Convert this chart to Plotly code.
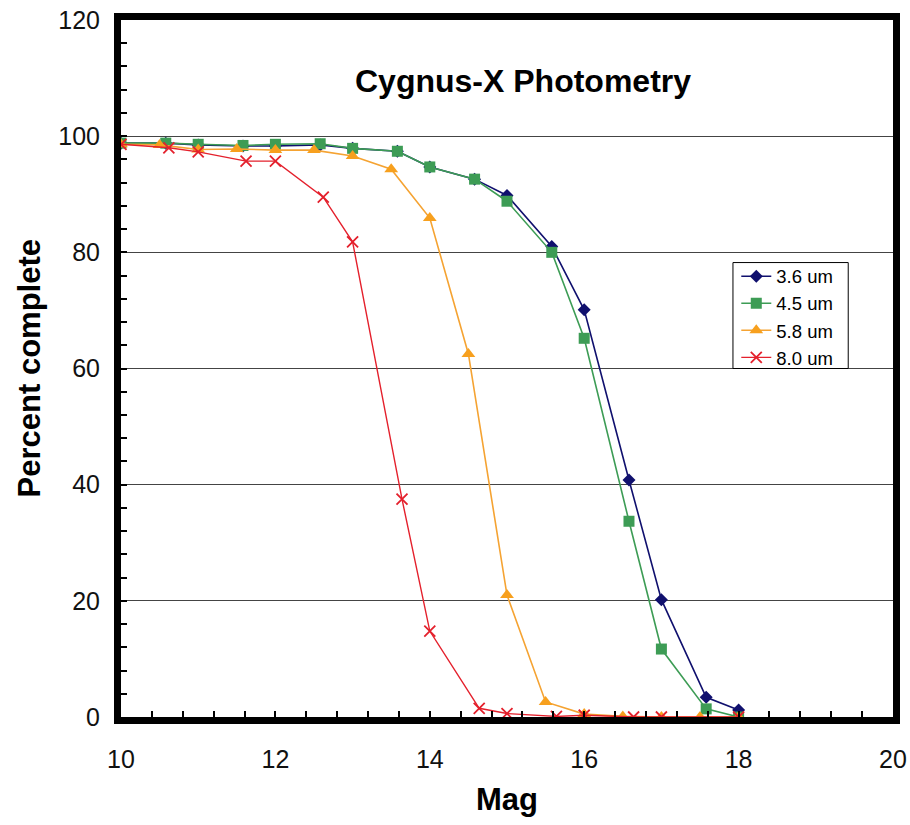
import plotly.graph_objects as go

# ---- data ----
mag_a = [10.0, 10.58, 11.0, 11.58, 12.0, 12.58, 13.0, 13.58, 14.0, 14.58, 15.0, 15.58, 16.0, 16.58, 17.0, 17.58, 18.0]
pct_36 = [98.8, 98.8, 98.5, 98.3, 98.3, 98.5, 97.9, 97.4, 94.7, 92.6, 89.8, 81.0, 70.1, 40.8, 20.2, 3.4, 1.2]
pct_45 = [98.8, 98.8, 98.6, 98.4, 98.6, 98.7, 97.9, 97.4, 94.7, 92.6, 88.8, 80.0, 65.2, 33.7, 11.7, 1.4, 0.0]

mag_b = [10.0, 10.5, 11.0, 11.5, 12.0, 12.5, 13.0, 13.5, 14.0, 14.5, 15.0, 15.5, 16.0, 16.5, 17.0, 17.5, 18.0]
pct_58 = [98.6, 98.5, 97.7, 97.8, 97.6, 97.6, 96.6, 94.3, 85.9, 62.5, 21.0, 2.6, 0.5, 0.1, 0.0, 0.0, 0.0]

mag_c = [10.0, 10.62, 11.0, 11.62, 12.0, 12.62, 13.0, 13.64, 14.0, 14.64, 15.0, 15.64, 16.0, 16.64, 17.0, 18.0]
pct_80 = [98.6, 98.0, 97.3, 95.7, 95.7, 89.5, 81.8, 37.5, 14.8, 1.5, 0.6, 0.1, 0.3, 0.0, 0.0, 0.0]

series_names = ["3.6 um", "4.5 um", "5.8 um", "8.0 um"]
x_ticks = [10, 12, 14, 16, 18, 20]
y_ticks = [0, 20, 40, 60, 80, 100, 120]

FONT = "Liberation Sans, Arial, sans-serif"

fig = go.Figure()
fig.add_trace(go.Scatter(x=mag_a, y=pct_36, name=series_names[0], mode="lines+markers",
                         line=dict(color="#10106e", width=1.6),
                         marker=dict(symbol="diamond", size=10, color="#10106e"),
                         cliponaxis=False))
fig.add_trace(go.Scatter(x=mag_a, y=pct_45, name=series_names[1], mode="lines+markers",
                         line=dict(color="#3d9c55", width=1.6),
                         marker=dict(symbol="square", size=11, color="#3d9c55"),
                         cliponaxis=False))
fig.add_trace(go.Scatter(x=mag_b, y=pct_58, name=series_names[2], mode="lines+markers",
                         line=dict(color="#f5a332", width=1.6),
                         marker=dict(symbol="triangle-up", size=12, color="#f7a01e"),
                         cliponaxis=False))
fig.add_trace(go.Scatter(x=mag_c, y=pct_80, name=series_names[3], mode="lines+markers",
                         line=dict(color="#e4202c", width=1.4),
                         marker=dict(symbol="x-thin-open", size=11, color="#e4202c",
                                     line=dict(color="#e4202c", width=1.8)),
                         cliponaxis=False))

fig.add_annotation(text="<b>Cygnus-X Photometry</b>", x=0.521, y=0.912, xref="paper", yref="paper",
                   showarrow=False, font=dict(family=FONT, size=32, color="#000000"),
                   xanchor="center", yanchor="middle")
fig.add_annotation(text="<b>Mag</b>", x=0.5, y=-0.119, xref="paper", yref="paper",
                   showarrow=False, font=dict(family=FONT, size=31, color="#000000"),
                   xanchor="center", yanchor="middle")
fig.add_annotation(text="<b>Percent complete</b>", x=-0.118, y=0.5, xref="paper", yref="paper",
                   showarrow=False, font=dict(family=FONT, size=31, color="#000000"),
                   xanchor="center", yanchor="middle", textangle=-90)

# legend frame (drawn as a shape so its size can match the original)
fig.add_shape(type="rect", xref="paper", yref="paper", x0=0.7927, x1=0.942, y0=0.5, y1=0.652,
              line=dict(color="#000000", width=1), fillcolor="white", layer="above")

axis_common = dict(showline=True, linewidth=7, linecolor="#000000", mirror=True,
                   ticks="inside", ticklen=6, tickwidth=2, tickcolor="#000000",
                   tickfont=dict(family=FONT, size=25, color="#111111"),
                   zeroline=False, automargin=False)

fig.update_xaxes(range=[10, 20], tickvals=x_ticks, showgrid=False, ticklabelstandoff=14,
                 minor=dict(dtick=0.4, tick0=10, ticks="inside", ticklen=6, tickwidth=2,
                            tickcolor="#000000", showgrid=False),
                 **axis_common)
fig.update_yaxes(range=[0, 120], tickvals=y_ticks, showgrid=True, gridcolor="#444444", gridwidth=1.3,
                 ticklabelstandoff=9,
                 minor=dict(dtick=4, tick0=0, ticks="inside", ticklen=6, tickwidth=2,
                            tickcolor="#000000", showgrid=False),
                 **axis_common)

fig.update_layout(
    width=910, height=825,
    margin=dict(l=121, r=17, t=20, b=108),
    paper_bgcolor="white", plot_bgcolor="white",
    font=dict(family=FONT),
    legend=dict(x=0.797, y=0.659, xanchor="left", yanchor="top",
                bgcolor="rgba(0,0,0,0)", borderwidth=0,
                font=dict(family=FONT, size=18.5, color="#000000"),
                itemwidth=30, tracegroupgap=0),
    showlegend=True,
)

fig.write_html("out.html")
